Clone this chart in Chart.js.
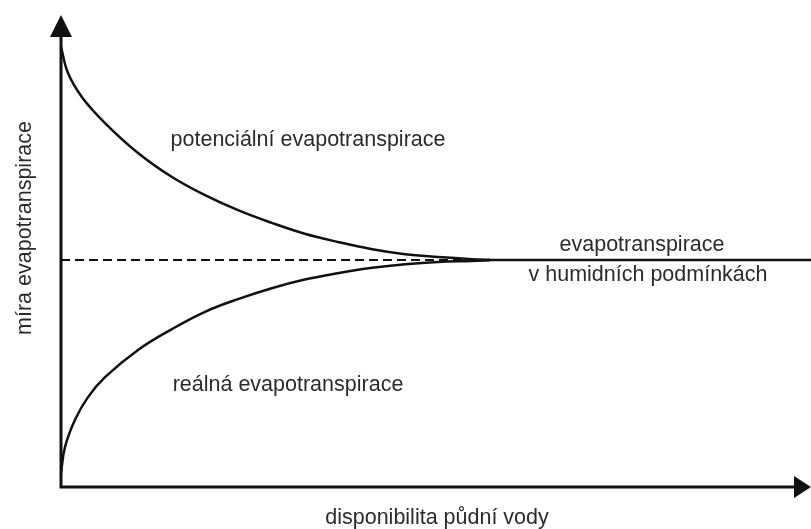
<!DOCTYPE html>
<html>
<head>
<meta charset="utf-8">
<script src="https://cdn.jsdelivr.net/npm/chart.js@4"></script>
<style>
  html, body { margin: 0; padding: 0; background: #fff; }
  #wrap { width: 811px; height: 529px; position: relative; }
</style>
</head>
<body>
<div id="wrap"><canvas id="chart"></canvas></div>
<script>
// x = dostupnost půdní vody (0..100), y = míra evapotranspirace (0..104)
const xPotential = [0, 0.93, 2.8, 5.87, 10.27, 14.8, 19.2, 23.6, 28.1, 32.5, 36.9, 41.5, 45.9, 50.3, 54.8, 57.2];
const yPotential = [97, 91.2, 85.9, 80.2, 73.6, 68.3, 64.3, 61, 58.2, 55.8, 54, 52.4, 51.3, 50.7, 50.2, 50];

const xReal = [0, 0.53, 1.87, 3.6, 5.87, 10.27, 14.8, 19.2, 23.6, 28.1, 32.5, 36.9, 41.5, 45.9, 50.3, 54.8, 57.2];
const yReal = [3.1, 8.8, 14.8, 19.8, 24.2, 30.2, 34.8, 38.6, 41.4, 43.8, 45.7, 47.1, 48.3, 49.1, 49.6, 49.8, 50];

const xHumidDashed = [0, 57];
const xHumidSolid = [56, 100];
const humidLevel = 50;

const labelPotential = 'potenciální evapotranspirace';
const labelReal = 'reálná evapotranspirace';
const labelHumid = ['evapotranspirace', 'v humidních podmínkách'];
const xTitle = 'disponibilita půdní vody';
const yTitle = 'míra evapotranspirace';

const ink = '#111';
const textInk = '#2b2b2b';
const font = '21.5px "Liberation Sans", Arial, sans-serif';

const toPoints = (xs, ys) => xs.map((x, i) => ({ x, y: ys[i] }));
const level = xs => xs.map(x => ({ x, y: humidLevel }));

// osy se šipkami a popisky
const schemePlugin = {
  id: 'scheme',
  afterDraw(chart) {
    const { ctx, chartArea: a } = chart;
    ctx.save();
    ctx.strokeStyle = ink;
    ctx.fillStyle = ink;
    ctx.lineWidth = 3;
    ctx.beginPath();
    ctx.moveTo(a.left, 34);
    ctx.lineTo(a.left, a.bottom);
    ctx.lineTo(796, a.bottom);
    ctx.stroke();
    // šipka nahoru
    ctx.beginPath();
    ctx.moveTo(a.left, 15);
    ctx.lineTo(a.left - 11, 37);
    ctx.lineTo(a.left + 11, 37);
    ctx.closePath();
    ctx.fill();
    // šipka doprava
    ctx.beginPath();
    ctx.moveTo(811, a.bottom);
    ctx.lineTo(794, a.bottom - 11);
    ctx.lineTo(794, a.bottom + 11);
    ctx.closePath();
    ctx.fill();

    ctx.fillStyle = textInk;
    ctx.font = font;
    ctx.textAlign = 'center';
    ctx.textBaseline = 'alphabetic';
    ctx.fillText(labelPotential, 308, 146);
    ctx.fillText(labelReal, 288, 391);
    ctx.fillText(labelHumid[0], 642, 251);
    ctx.fillText(labelHumid[1], 648, 281);
    ctx.fillText(xTitle, 437, 524);
    ctx.translate(31, 228);
    ctx.rotate(-Math.PI / 2);
    ctx.fillText(yTitle, 0, 0);
    ctx.restore();
  }
};

const base = {
  borderColor: ink,
  borderWidth: 2.5,
  pointRadius: 0,
  fill: false,
  clip: 6,
  tension: 0.4
};

new Chart(document.getElementById('chart'), {
  type: 'line',
  data: {
    datasets: [
      { ...base, label: labelPotential, data: toPoints(xPotential, yPotential) },
      { ...base, label: labelReal, data: toPoints(xReal, yReal) },
      { ...base, label: 'humid-dashed', data: level(xHumidDashed), borderWidth: 2, borderDash: [9, 5], tension: 0 },
      { ...base, label: 'humid', data: level(xHumidSolid), borderWidth: 2.5, tension: 0 }
    ]
  },
  options: {
    responsive: true,
    maintainAspectRatio: false,
    animation: false,
    layout: { padding: { left: 61, right: 0, top: 15, bottom: 42 } },
    plugins: { legend: { display: false }, tooltip: { enabled: false } },
    scales: {
      x: { type: 'linear', min: 0, max: 100, display: false },
      y: { type: 'linear', min: 0, max: 104, display: false }
    }
  },
  plugins: [schemePlugin]
});
</script>
</body>
</html>
